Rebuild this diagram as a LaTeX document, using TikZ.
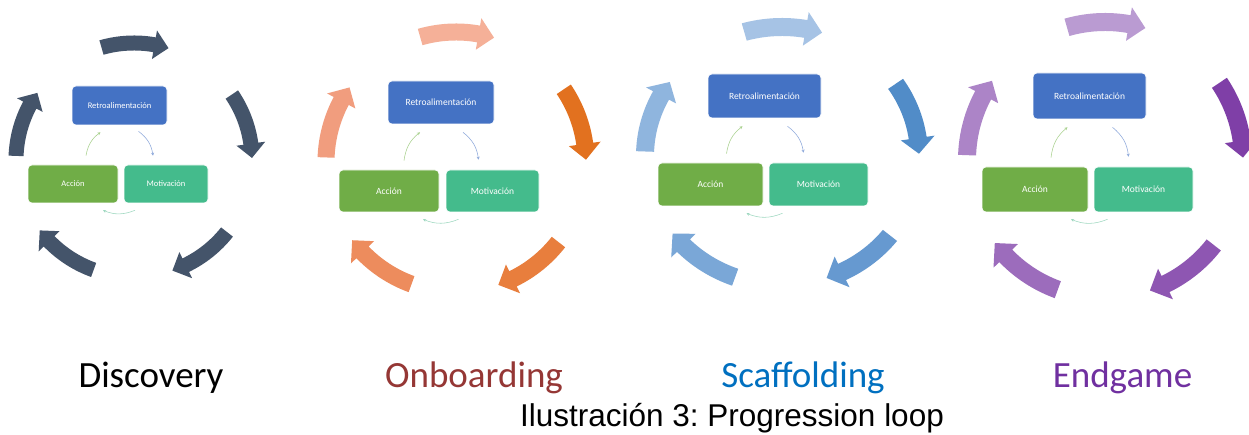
\documentclass[tikz,border=0pt]{standalone}
\usepackage{fontspec}
\setmainfont{Carlito}
\newfontfamily\arialfont{Liberation Sans}
\usetikzlibrary{arrows.meta}
\definecolor{slate}{HTML}{44546A}
\definecolor{oA}{HTML}{E2711F}
\definecolor{oB}{HTML}{E87E3D}
\definecolor{oC}{HTML}{ED8C5D}
\definecolor{oD}{HTML}{F19D7E}
\definecolor{oE}{HTML}{F5B098}
\definecolor{bA}{HTML}{518CC8}
\definecolor{bB}{HTML}{6699D0}
\definecolor{bC}{HTML}{7AA7D7}
\definecolor{bD}{HTML}{8FB5DE}
\definecolor{bE}{HTML}{A6C3E5}
\definecolor{pA}{HTML}{7F3FA7}
\definecolor{pB}{HTML}{8E56B2}
\definecolor{pC}{HTML}{9C6CBC}
\definecolor{pD}{HTML}{AC84C7}
\definecolor{pE}{HTML}{BA9BD2}
\definecolor{retro}{HTML}{4472C4}
\definecolor{accion}{HTML}{70AD47}
\definecolor{motiv}{HTML}{44BB8C}
\definecolor{lgreen}{HTML}{A9D18E}
\definecolor{lblue}{HTML}{8EA9DB}
\definecolor{lteal}{HTML}{9ED8C0}
\definecolor{onbc}{HTML}{953735}
\definecolor{scac}{HTML}{0070C0}
\definecolor{endc}{HTML}{7030A0}
\newcommand\setcyc[6]{\def\kcx{#1}\def\kcy{#2}\def\krx{#3}\def\kry{#4}\def\kw{#5}\def\kh{#6}}
\newcommand\carrow[2]{%
 \pgfmathsetmacro\kta{#1+16}%
 \pgfmathsetmacro\ktb{#1-17+7}%
 \pgfmathsetmacro\ktc{#1-17}%
 \pgfmathsetmacro\kro{\krx+\kw}\pgfmathsetmacro\kso{\kry+\kw}%
 \pgfmathsetmacro\kri{\krx-\kw}\pgfmathsetmacro\ksi{\kry-\kw}%
 \pgfmathsetmacro\krh{\krx+\kh}\pgfmathsetmacro\ksh{\kry+\kh}%
 \pgfmathsetmacro\krj{\krx-\kh}\pgfmathsetmacro\ksj{\kry-\kh}%
 \fill[#2] ({\kcx+\kro*cos(\kta)},{\kcy+\kso*sin(\kta)})
   arc[start angle=\kta,end angle=\ktb,x radius=\kro pt,y radius=\kso pt]
   -- ({\kcx+\krh*cos(\ktb)},{\kcy+\ksh*sin(\ktb)})
   -- ({\kcx+\krx*cos(\ktc)},{\kcy+\kry*sin(\ktc)})
   -- ({\kcx+\krj*cos(\ktb)},{\kcy+\ksj*sin(\ktb)})
   -- ({\kcx+\kri*cos(\ktb)},{\kcy+\ksi*sin(\ktb)})
   arc[start angle=\ktb,end angle=\kta,x radius=\kri pt,y radius=\ksi pt] -- cycle;}
\tikzset{
 box/.style={rounded corners=4pt, draw=white, line width=0.6pt, text=white, inner sep=0pt, font=\fontsize{9.5}{10}\selectfont},
 smallbox/.style={box, font=\fontsize{8.5}{9}\selectfont},
 thin arrow/.style={line width=0.55pt, -{Stealth[length=3pt,width=3pt]}, bend left=22},
 stage/.style={font=\fontsize{37}{40}\selectfont},
}
\begin{document}
\begin{tikzpicture}[x=1pt,y=1pt]
\useasboundingbox (0,0) rectangle (1249,435);
\fill[white] (0,0) rectangle (1249,435);
% ---- Discovery
\setcyc{134}{275}{118}{117}{7.5}{14.5}
\carrow{90}{slate}\carrow{18}{slate}\carrow{-54}{slate}\carrow{-126}{slate}\carrow{162}{slate}
\node[smallbox, fill=retro, minimum width=95pt, minimum height=39pt] (r1) at (119.5,329.5) {Retroalimentación};
\node[smallbox, fill=accion, minimum width=90pt, minimum height=38pt] (a1) at (73,251) {Acción};
\node[smallbox, fill=motiv, minimum width=84pt, minimum height=38pt] (m1) at (166,251) {Motivación};
\draw[thin arrow, lgreen] ([xshift=13pt,yshift=9pt]a1.north) to ([xshift=-19pt,yshift=-7pt]r1.south);
\draw[thin arrow, lblue] ([xshift=19pt,yshift=-6pt]r1.south) to ([xshift=-13pt,yshift=9pt]m1.north);
\draw[thin arrow, lteal] ([xshift=-31pt,yshift=-7pt]m1.south) to ([xshift=30pt,yshift=-7pt]a1.south);
% ---- Onboarding
\setcyc{456}{273}{130}{130}{8.5}{16}
\carrow{90}{oE}\carrow{18}{oA}\carrow{-54}{oB}\carrow{-126}{oC}\carrow{162}{oD}
\node[box, fill=retro, minimum width=106pt, minimum height=43pt] (r2) at (441,332.5) {Retroalimentación};
\node[box, fill=accion, minimum width=100pt, minimum height=42pt] (a2) at (389,244) {Acción};
\node[box, fill=motiv, minimum width=93pt, minimum height=42pt] (m2) at (492.5,244) {Motivación};
\draw[thin arrow, lgreen] ([xshift=15pt,yshift=9pt]a2.north) to ([xshift=-21pt,yshift=-8pt]r2.south);
\draw[thin arrow, lblue] ([xshift=22pt,yshift=-8pt]r2.south) to ([xshift=-14pt,yshift=10pt]m2.north);
\draw[thin arrow, lteal] ([xshift=-34pt,yshift=-7pt]m2.south) to ([xshift=34pt,yshift=-7pt]a2.south);
% ---- Scaffolding
\setcyc{782}{279}{137}{129}{9}{17}
\carrow{90}{bE}\carrow{18}{bA}\carrow{-54}{bB}\carrow{-126}{bC}\carrow{162}{bD}
\node[box, fill=retro, minimum width=113pt, minimum height=44pt] (r3) at (764.5,339) {Retroalimentación};
\node[box, fill=accion, minimum width=105pt, minimum height=43pt] (a3) at (710.5,250.5) {Acción};
\node[box, fill=motiv, minimum width=99pt, minimum height=43pt] (m3) at (818.5,250.5) {Motivación};
\draw[thin arrow, lgreen] ([xshift=16pt,yshift=9pt]a3.north) to ([xshift=-22pt,yshift=-8pt]r3.south);
\draw[thin arrow, lblue] ([xshift=23pt,yshift=-8pt]r3.south) to ([xshift=-15pt,yshift=10pt]m3.north);
\draw[thin arrow, lteal] ([xshift=-36pt,yshift=-7pt]m3.south) to ([xshift=36pt,yshift=-7pt]a3.south);
% ---- Endgame
\setcyc{1105}{275}{138}{138}{9}{17}
\carrow{90}{pE}\carrow{18}{pA}\carrow{-54}{pB}\carrow{-126}{pC}\carrow{162}{pD}
\node[box, fill=retro, minimum width=113pt, minimum height=46pt] (r4) at (1089.5,339) {Retroalimentación};
\node[box, fill=accion, minimum width=106pt, minimum height=45pt] (a4) at (1035,245.5) {Acción};
\node[box, fill=motiv, minimum width=99pt, minimum height=45pt] (m4) at (1143.5,245.5) {Motivación};
\draw[thin arrow, lgreen] ([xshift=16pt,yshift=9pt]a4.north) to ([xshift=-22pt,yshift=-8pt]r4.south);
\draw[thin arrow, lblue] ([xshift=23pt,yshift=-8pt]r4.south) to ([xshift=-15pt,yshift=10pt]m4.north);
\draw[thin arrow, lteal] ([xshift=-36pt,yshift=-7pt]m4.south) to ([xshift=36pt,yshift=-7pt]a4.south);
% ---- labels
\node[stage, text=black] (l1) at (151,57) {Discovery};
\node[stage, text=onbc] (l2) at (474,57) {Onboarding};
\node[stage, text=scac] (l3) at (803,57) {Scaffolding};
\node[stage, text=endc] (l4) at (1122.5,57) {Endgame};
\node[font=\arialfont\fontsize{31.5}{33}\selectfont] (cap) at (732,17) {Ilustración 3:\ Progression loop};
\end{tikzpicture}
\end{document}
